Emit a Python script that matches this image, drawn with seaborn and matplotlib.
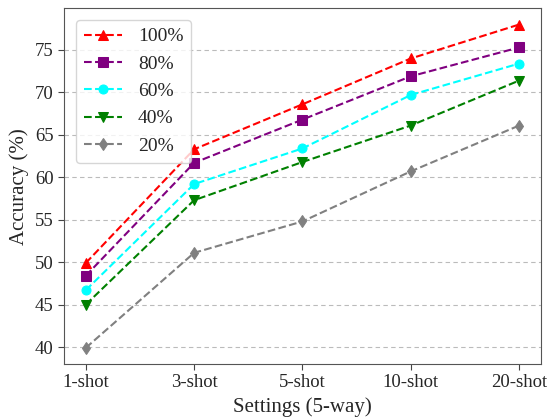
import numpy as np
import pandas as pd
import matplotlib
matplotlib.use('Agg')
import matplotlib.pyplot as plt
import seaborn as sns

settings = ['1-shot', '3-shot', '5-shot', '10-shot', '20-shot']
labels = ['100%', '80%', '60%', '40%', '20%']
acc_100 = [49.9, 63.3, 68.6, 74.0, 78.0]
acc_80 = [48.4, 61.7, 66.8, 71.9, 75.3]
acc_60 = [46.7, 59.2, 63.4, 69.7, 73.4]
acc_40 = [45.0, 57.3, 61.8, 66.1, 71.4]
acc_20 = [39.9, 51.1, 54.8, 60.7, 66.1]
colors = ['red', 'purple', 'cyan', 'green', 'gray']
markers = ['^', 's', 'o', 'v', 'd']

sns.set_style('ticks')
plt.rcParams['font.family'] = ['Liberation Serif', 'DejaVu Serif']

fig, ax = plt.subplots(figsize=(5.48, 4.17), dpi=100)
series = [acc_100, acc_80, acc_60, acc_40, acc_20]
for vals, lab, c, m in zip(series, labels, colors, markers):
    sns.lineplot(x=settings, y=vals, ax=ax, color=c, marker=m, linestyle='--',
                 markersize=6.5, markeredgecolor=c, linewidth=1.5, label=lab, sort=False)

ax.set_xlabel('Settings (5-way)', fontsize=15)
ax.set_ylabel('Accuracy (%)', fontsize=15)
ax.tick_params(labelsize=13.5, color='#444444', length=4)
ax.margins(x=0.05, y=0.05)
ax.yaxis.grid(True, linestyle=(0, (4, 3)), color='#bbbbbb', linewidth=0.8)
ax.xaxis.grid(False)
for s in ax.spines.values():
    s.set_color('#555555')
ax.legend(loc='upper left', fontsize=14, frameon=True, borderaxespad=0.6)
fig.subplots_adjust(left=0.117, right=0.987, top=0.98, bottom=0.127)
fig.savefig('out.png', dpi=100)
